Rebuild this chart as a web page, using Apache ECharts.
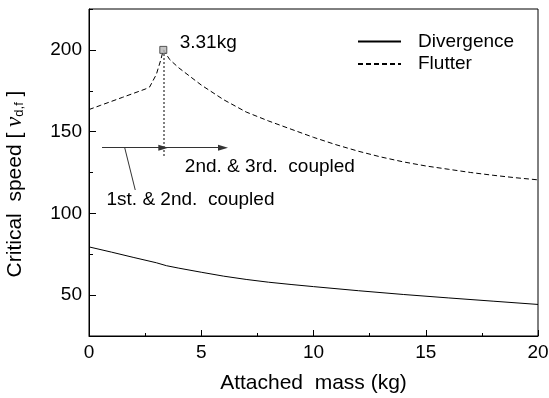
<!DOCTYPE html>
<html>
<head>
<meta charset="utf-8">
<script src="https://cdn.jsdelivr.net/npm/echarts@6/dist/echarts.min.js"></script>
<style>html,body{margin:0;padding:0;background:#fff;}#c{width:549px;height:398px;}</style>
</head>
<body>
<div id="c"></div>
<script>
// ---- data ----
const divMass  = [0, 1, 2, 3, 3.45, 4, 5, 6, 7, 8, 9, 10, 12, 14, 16, 18, 20];
const divSpeed = [79.5, 76.3, 73.0, 69.8, 68.0, 66.5, 64.0, 61.6, 59.6, 57.9, 56.5, 55.2, 52.7, 50.4, 48.3, 46.3, 44.3];

const flutMass  = [0, 0.5, 1, 1.5, 2, 2.5, 2.7, 3.0, 3.2, 3.31, 3.6, 4, 5, 6, 7, 8, 9, 10, 11, 12, 13, 14, 15, 16, 17, 18, 19, 20];
const flutSpeed = [163.5, 166, 168.5, 171, 173.5, 176, 177.3, 185, 194, 200, 194, 189, 178.5, 169.5, 162, 156.5, 151.5, 146.5, 142, 138, 134.5, 131.5, 129, 127, 125, 123.3, 121.8, 120.5];

const peakPoint = [3.31, 200];
const peakLabel = '3.31kg';
const labelPeakPos = [4.04, 204.4];
const note23 = '2nd. & 3rd.  coupled';
const note23Pos = [4.27, 128.5];
const note12 = '1st. & 2nd.  coupled';
const note12Pos = [0.78, 108.2];
const dropLine = [[3.31, 200], [3.31, 134.5]];
const arrow1 = [[0.58, 140.2], [3.31, 140.2]];
const arrow2 = [[3.31, 140.2], [5.97, 140.2]];
const leader = [[1.59, 140.2], [2.06, 114.3]];

const xTicks = {min: 0, max: 20, interval: 5};
const yMajor = [50, 100, 150, 200];
const yRange = {min: 25, max: 225, interval: 25};

const FONT = 'Liberation Sans, Arial, sans-serif';
const chart = echarts.init(document.getElementById('c'), null, {renderer: 'canvas'});

const pair = (a, b) => a.map((v, i) => [v, b[i]]);
const seg = (s, style, sym) => [
  {coord: s[0], symbol: 'none', lineStyle: style},
  {coord: s[1], symbol: sym || 'none'}
];

chart.setOption({
  animation: false,
  backgroundColor: '#fff',
  textStyle: {fontFamily: FONT, color: '#000'},
  grid: {left: 89, right: 11, top: 9, bottom: 62, containLabel: false, outerBoundsMode: 'none',
    show: true, borderColor: '#000', borderWidth: 1},
  legend: {
    data: ['Divergence', 'Flutter'],
    orient: 'vertical', left: 357, top: 32, padding: 0,
    itemWidth: 43, itemHeight: 14, itemGap: 3.5,
    itemStyle: {opacity: 0, borderWidth: 0},
    textStyle: {fontSize: 19, fontFamily: FONT, color: '#000', padding: [0, 0, 0, 12], lineHeight: 19}
  },
  xAxis: {
    type: 'value', min: xTicks.min, max: xTicks.max, interval: xTicks.interval,
    name: 'Attached  mass (kg)', nameLocation: 'middle', nameGap: 37,
    nameTextStyle: {fontSize: 21, fontFamily: FONT, color: '#000'},
    axisLine: {lineStyle: {color: '#000', width: 1}},
    axisTick: {inside: true, length: 6, lineStyle: {color: '#000'}},
    minorTick: {show: true, splitNumber: 2, length: 3, lineStyle: {color: '#000'}},
    axisLabel: {fontSize: 19, color: '#000', margin: 7, fontFamily: FONT},
    splitLine: {show: false}
  },
  yAxis: [{
    type: 'value', min: yRange.min, max: yRange.max, interval: yRange.interval,
    name: '{t|Critical  speed [ }{v|v}{s|d,f}{t| ]}', nameLocation: 'middle', nameGap: 63, nameRotate: 90,
    nameTextStyle: {
      padding: [0, 23, 0, 0],
      rich: {
        t: {fontSize: 21, fontFamily: FONT, color: '#000', lineHeight: 24, verticalAlign: 'bottom'},
        v: {fontSize: 23, fontFamily: 'Liberation Serif, serif', fontStyle: 'italic', color: '#000', lineHeight: 24, verticalAlign: 'bottom'},
        s: {fontSize: 13, fontFamily: FONT, color: '#000', lineHeight: 20, verticalAlign: 'bottom'}
      }
    },
    axisLine: {lineStyle: {color: '#000', width: 1}},
    axisTick: {inside: true, length: 7, customValues: yMajor, lineStyle: {color: '#000'}},
    axisLabel: {fontSize: 19, color: '#000', margin: 7, fontFamily: FONT, customValues: yMajor,
      formatter: v => (v % 50 === 0 ? String(v) : '')},
    splitLine: {show: false}
  }, {
    type: 'value', min: yRange.min, max: yRange.max, interval: yRange.interval, position: 'left',
    axisLine: {show: false},
    axisTick: {inside: true, length: 4, lineStyle: {color: '#000'}},
    axisLabel: {show: false},
    splitLine: {show: false}
  }],
  series: [{
    name: 'Divergence', type: 'line', data: pair(divMass, divSpeed),
    symbol: 'none', lineStyle: {color: '#000', width: 1}, itemStyle: {color: '#000'}
  }, {
    name: 'Flutter', type: 'line', data: pair(flutMass, flutSpeed),
    symbol: 'none', lineStyle: {color: '#000', width: 1, type: [5, 3]}, itemStyle: {color: '#000'}
  }, {
    name: 'peak', type: 'scatter', data: [peakPoint], z: 5,
    symbol: 'rect', symbolSize: 7, silent: true,
    itemStyle: {color: '#b5b5b5', borderColor: '#333', borderWidth: 1},
    markLine: {
      silent: true, animation: false, symbolSize: [6, 10], label: {show: false},
      emphasis: {disabled: true},
      data: [
        seg(dropLine, {color: '#808080', width: 2, type: [2, 2]}),
        seg(arrow1, {color: '#333', width: 1.2, type: 'solid'}, 'triangle'),
        seg(arrow2, {color: '#333', width: 1.2, type: 'solid'}, 'triangle'),
        seg(leader, {color: '#333', width: 1, type: 'solid'})
      ]
    },
    markPoint: {
      silent: true, symbol: 'circle', symbolSize: 0,
      label: {show: true, position: 'right', distance: 0, fontSize: 19, color: '#000', fontFamily: FONT},
      data: [
        {coord: labelPeakPos, label: {formatter: peakLabel}},
        {coord: note23Pos, label: {formatter: note23}},
        {coord: note12Pos, label: {formatter: note12}}
      ]
    }
  }]
});
</script>
</body>
</html>
